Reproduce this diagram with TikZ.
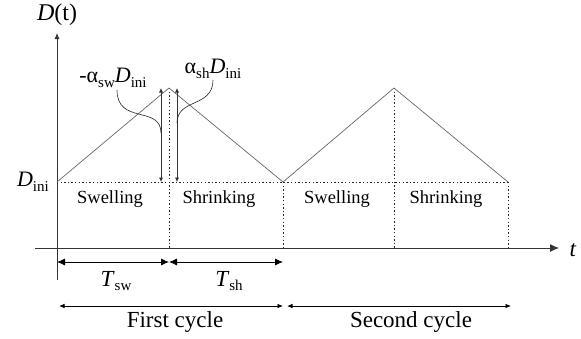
\documentclass[tikz,border=0pt]{standalone}
\usepackage{fontspec}
\setmainfont{Liberation Serif}
\usetikzlibrary{arrows.meta}
\newcommand\sbx[1]{\raisebox{-0.45ex}{\fontsize{15}{15}\selectfont #1}}
\begin{document}
\begin{tikzpicture}[x=1pt,y=-1pt,
  curve/.style={draw=black!85,line width=0.6pt},
  dotline/.style={draw=black!85,line width=0.75pt,dash pattern=on 1.4pt off 2.2pt},
  axis/.style={draw=black!80,line width=0.9pt},
  vtip/.style={draw=black!80,line width=0.7pt,{Latex[length=4.5pt,width=4pt]}-{Latex[length=4.5pt,width=4pt]}},
  darr/.style={draw=black,line width=0.8pt,{Latex[length=8pt,width=7pt]}-{Latex[length=8pt,width=7pt]}},
  carr/.style={draw=black,line width=0.8pt,{Latex[length=5.5pt,width=4.5pt]}-{Latex[length=5.5pt,width=4.5pt]}},
  phase/.style={font=\fontsize{18.5}{20}\selectfont,inner sep=0pt},
  big/.style={font=\fontsize{23}{25}\selectfont,inner sep=0pt},
  lbl/.style={font=\fontsize{22}{24}\selectfont,inner sep=0pt}]
\useasboundingbox (0,0) rectangle (581,338);
% key coordinates
\coordinate (o) at (57,248);
\coordinate (ytop) at (57,33);
\coordinate (ybot) at (57,280);
\coordinate (xl) at (35,248);
\coordinate (xr) at (559,248);
\coordinate (a0) at (57,182);
\coordinate (p1) at (169,88);
\coordinate (a1) at (283,182);
\coordinate (p2) at (394,88);
\coordinate (a2) at (508,182);
\coordinate (b1) at (169,248);
\coordinate (b2) at (283,248);
\coordinate (b3) at (394,248);
\coordinate (b4) at (508,248);
% axes
\draw[axis,-{Latex[length=6pt,width=5pt]}] (ybot) -- (ytop);
\draw[axis,-{Latex[length=9pt,width=8pt]}] (xl) -- (xr);
% dotted guides
\draw[dotline] (a0) -- (a2);
\draw[dotline] (p1) -- (b1);
\draw[dotline] (a1) -- (b2);
\draw[dotline] (p2) -- (b3);
\draw[dotline] (a2) -- (b4);
% triangle wave
\draw[draw=black!60,line width=0.7pt] (a0) -- (p1) -- (a1) -- (p2) -- (a2);
% amplitude arrows
\coordinate (v1t) at (161,88);
\coordinate (v1b) at (161,182);
\coordinate (v2t) at (177,88);
\coordinate (v2b) at (177,182);
\draw[vtip] (v1t) -- (v1b);
\draw[vtip] (v2t) -- (v2b);
% labels
\node[big,font=\fontsize{24}{26}\selectfont] (dt) at (57,15) {\textit{D}(t)};
\node[lbl,anchor=east] (dini) at (49,182) {\textit{D}\sbx{ini}};
\node[big] (tt) at (573,250) {\textit{t}};
\node[lbl] (asw) at (113,78) {-α\sbx{sw}\textit{D}\sbx{ini}};
\node[lbl] (ash) at (213,69) {α\sbx{sh}\textit{D}\sbx{ini}};
\coordinate (c1) at (161,133);
\coordinate (c2) at (177,123);
\draw[curve] (117,90) .. controls (117,125) and (161,105) .. (c1);
\draw[curve] (213,80) .. controls (213,108) and (177,98) .. (c2);
% phases
\node[phase] (s1) at (110,199) {Swelling};
\node[phase] (h1) at (219,199) {Shrinking};
\node[phase] (s2) at (337,199) {Swelling};
\node[phase] (h2) at (446,199) {Shrinking};
% durations
\coordinate (t0) at (57,262);
\coordinate (t1) at (169,262);
\coordinate (t2) at (283,262);
\draw[darr] (t0) -- (t1);
\draw[darr] (t1) -- (t2);
\node[big] (tsw) at (116,281) {\textit{T}\sbx{sw}};
\node[big] (tsh) at (229,281) {\textit{T}\sbx{sh}};
% cycles
\coordinate (k0) at (59,306);
\coordinate (k1) at (283,306);
\coordinate (k2) at (287,306);
\coordinate (k3) at (511,306);
\draw[carr] (k0) -- (k1);
\draw[carr] (k2) -- (k3);
\node[big] (fc) at (175,322) {First cycle};
\node[big] (sc) at (411,322) {Second cycle};
\end{tikzpicture}
\end{document}
